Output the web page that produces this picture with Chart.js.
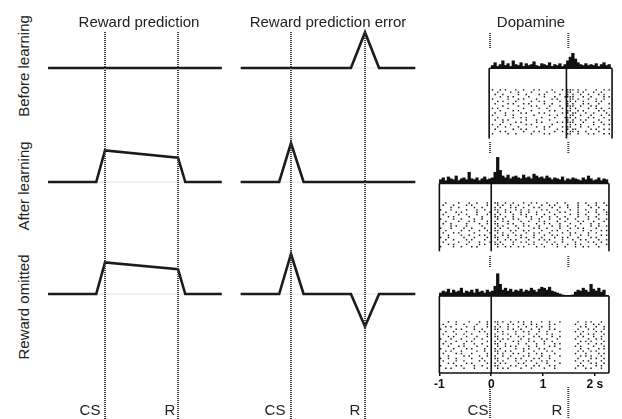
<!DOCTYPE html>
<html>
<head>
<meta charset="utf-8">
<title>Reward prediction error and dopamine</title>
<script src="https://cdn.jsdelivr.net/npm/chart.js@4.4.1/dist/chart.umd.min.js"></script>
<style>
    body { margin: 0; background: #fff; }
    #fig { position: relative; width: 622px; height: 419px; overflow: hidden; font-family: "Liberation Sans", Arial, sans-serif; color: #222; }
    #fig canvas { position: absolute; }
    .lbl { position: absolute; font-size: 15px; line-height: 15px; white-space: nowrap; transform: translate(-50%, -50%); }
    .rot { transform: translate(-50%, -50%) rotate(-90deg); }
</style>
</head>
<body>
<div id="fig"></div>
<script>
// ---- data ----
// model time: CS = 0, R = 1
const CS = 0;
const R = 1;

const rpTimes = [-0.78, -0.12, 0, 1, 1.1, 1.6];
const rpBefore = [0, 0, 0, 0, 0, 0];
const rpAfter = [0, 0, 0.79, 0.61, 0, 0];
const rpOmitted = [0, 0, 0.79, 0.62, 0, 0];

const rpeTimes = [-0.68, -0.16, 0, 0.17, 0.81, 1, 1.19, 1.68];
const rpeBefore = [0, 0, 0, 0, 0, 0.89, 0, 0];
const rpeAfter = [0, 0, 0.97, 0, 0, 0, 0, 0];
const rpeOmitted = [0, 0, 1, 0, 0, -0.81, 0, 0];

// dopamine neuron, seconds from CS, 50 ms bins
const daReward = 1.45;
const binWidth = 0.05;

const histBefore = [3, 6, 2, 4, 8, 3, 5, 2, 8, 4, 3, 6, 2, 5, 3, 4, 7, 3, 2, 5,
    4, 3, 6, 2, 4, 3, 5, 2, 4, 8, 12, 16, 10, 6, 4, 3, 5, 3, 4, 3, 5, 2, 4, 6, 3, 4]; // from 0 s
const histAfter = [4, 6, 3, 7, 5, 4, 8, 3, 5, 6, 4, 12, 5, 4, 6, 3, 5, 7, 4, 5,
    6, 12, 28, 14, 8, 6, 9, 5, 7, 8, 6, 5, 9, 6, 7, 5, 10, 8, 6, 7,
    5, 8, 6, 4, 6, 5, 4, 7, 3, 5, 4, 6, 5, 4, 3, 6, 4, 8, 5, 3, 4, 6, 3, 5, 4]; // from -1 s
const histOmitted = [3, 5, 4, 7, 3, 6, 4, 5, 8, 3, 5, 4, 6, 3, 7, 4, 5, 3, 6, 4,
    5, 10, 23, 12, 6, 8, 5, 7, 4, 6, 5, 7, 4, 6, 5, 8, 6, 4, 7, 9,
    8, 6, 9, 5, 4, 3, 2, 1, 0, 0, 0, 1, 4, 6, 5, 8, 6, 4, 12, 7, 5, 8, 4, 6]; // from -1 s

// one string per trial, one character per bin, x = spike
const rasterBefore = [ // from 0 s, reward at bin 29
    "x..x.x...x..x...x.x....x...x." + "xxx.x..x...x..x.x",
    "..x....x..x....x.....x..x...." + "xx..x.x...x..x...",
    ".x..x.....x..x....x.x.....x.." + "x.x..x..x...x.x..",
    "...x..x.x.....x.....x...x...x" + "xxx...x..x....x.x",
    "x.....x...x.x....x.....x.x..." + ".xx.x...x..x..x..",
    "..x.x....x.....x..x.x.....x.." + "xx.x..x....x.x...",
    ".x....x.x...x.x.....x..x....." + "x.x...x.x...x...x",
    "....x.....x....x.x....x...x.." + "xxx..x...x.x.....",
    "x.x...x.....x.....x..x.....x." + ".x.x....x..x.x..x",
    "...x....x.x....x......x.x...." + "xx..x.x.....x.x..",
    ".x...x.....x.x....x.x......x." + "x.xx...x..x....x.",
    "x....x..x.......x.....x..x..." + ".xx..x...x...x..x",
    "..x.....x..x.x.....x....x...x" + "xx.x....x.x...x..",
    ".x..x.x......x...x....x......" + "x.x..x.x....x...x",
    "....x....x.x.....x.x.....x.x." + "xxx...x...x..x...",
    "x..x...x.....x.x.......x....." + ".x.x.x....x...x.x",
    "..x..x....x......x..x.x....x." + "xx...x..x...x....",
    ".x......x..x.x......x....x..." + "x.xx.....x.x..x.x",
    "...x.x......x...x.x.....x..x." + ".xx.x..x....x....",
    "x.....x..x.....x....x.x......" + "xx..x...x.x...x.x",
];
const rasterAfter = [ // from -1 s, CS at bin 20
    "..x....x...x..x...x." + ".xx..x..x...x..x.x...x...x..x....x..x...x..x.",
    ".x...x....x.x.....x." + "..x.x..x..x...x....x..x.x....x...x...x..x...x",
    "....x..x.....x..x..." + ".x.x...x.x..x...x.x....x..x..x...x....x..x...",
    "x...x.....x...x..x.." + ".xx..x...x.x..x....x.x...x....x..x..x...x..x.",
    "..x...x.x.....x....x" + "..x..x.x...x..x..x....x...x.x....x...x..x...x",
    ".x.....x..x...x...x." + ".x.x....x..x.x...x..x...x.....x..x..x....x..x",
    "...x.x.....x....x..." + ".xx..x..x....x.x...x..x..x..x....x...x..x....",
    "x....x..x....x..x..." + "..x.x...x.x....x..x...x...x..x..x....x...x..x",
    "..x....x...x.x....x." + ".x..x.x....x..x...x.x....x..x....x.x...x...x.",
    ".x..x.....x....x..x." + ".xx...x.x...x....x..x.x...x...x...x...x..x...",
    "....x.x...x.....x..." + "..x.x....x..x.x...x....x..x..x..x.....x..x..x",
    "x...x....x..x....x.." + ".x.x..x...x.....x.x..x....x...x..x.x....x....",
    "..x.....x..x...x..x." + ".xx....x.x..x.x....x...x.x...x.....x..x...x.x",
    ".x...x.x.....x.....x" + "..x.x...x....x..x.x...x....x..x.x....x..x....",
    "...x....x..x...x.x.." + ".x..x.x..x.x....x...x..x.x....x...x..x....x.x",
    "x..x.....x...x....x." + ".xx...x....x.x..x..x....x..x.x...x....x.x....",
    "..x..x....x.x....x.." + "..x..x.x.x....x...x.x.x....x...x..x.x....x..x",
    ".x.....x...x...x...x" + ".x.x....x..x.x..x....x..x..x....x....x.x..x..",
    "...x.x....x....x.x.." + ".xx.x...x.....x.x..x...x.x...x..x.x.....x...x",
    "x....x..x...x.x....." + "..x..x.x..x.x....x..x....x..x...x..x.x...x...",
];
const rasterOmitted = [ // from -1 s, CS at bin 20, omitted reward at bins 47-51
    "...x..x....x...x..x." + ".xx.x..x..x.x..x...x..x...x" + "....." + ".x..x.x...x..",
    ".x....x..x....x...x." + "..x...x.x...x..x.x....x.x.." + "....." + "x...x..x.x...",
    "..x.x.....x..x....x." + ".x.x..x...x..x...x.x..x...." + "....." + "..x.x...x..x.",
    "x.....x.x....x..x..." + ".xx...x.x..x...x..x...x.x.." + "....." + ".x...x.x...x.",
    "..x..x....x....x.x.." + "..x.x....x..x.x...x..x....x" + "....." + "x..x....x.x..",
    ".x....x..x..x.....x." + ".x..x.x..x....x..x...x.x..." + "....." + "..x..x.x...x.",
    "...x.x....x...x...x." + ".xx....x..x.x...x.x....x..x" + "....." + ".x.x...x..x..",
    "x...x...x....x..x..." + "..x.x.x....x..x....x.x...x." + "....." + "x....x..x.x..",
    "..x...x...x.x.....x." + ".x.x....x.x...x.x...x..x..." + "....." + "..x.x.x....x.",
    ".x..x....x...x..x..." + ".xx..x....x..x...x..x...x.x" + "....." + ".x...x..x.x..",
    "...x...x.x....x...x." + "..x..x.x.x....x..x....x.x.." + "....." + "x.x....x...x.",
    "x....x....x.x....x.." + ".x.x.....x..x.x...x.x.....x" + "....." + "..x..x...x.x.",
    "..x.x...x.....x..x.." + ".xx..x.x....x...x....x.x..." + "....." + ".x.x..x.x....",
    ".x....x.x...x.....x." + "..x.x...x.x...x..x.x....x.." + "....." + "x...x....x.x.",
    "...x.....x.x...x..x." + ".x..x..x....x.x....x..x...x" + "....." + "..x.x.x...x..",
    "x..x..x.....x...x..." + ".xx...x..x.x....x.x...x...." + "....." + ".x....x.x..x.",
    ".x....x..x.....x.x.." + "..x.x....x...x.x...x.x..x.." + "....." + "x..x.x....x..",
    "...x.x....x.x.....x." + ".x.x.x....x.x....x...x....x" + "....." + "..x...x.x..x.",
    "x.....x.x....x..x..." + ".xx....x.x...x..x.x...x.x.." + "....." + ".x.x....x.x..",
    "..x.x....x...x....x." + "..x.x.x....x...x....x...x.." + "....." + "x...x.x...x..",
];

const timeTicks = [-1, 0, 1, 2];
const timeTickLabels = ["-1", "0", "1", "2 s"];

const columnTitles = ["Reward prediction", "Reward prediction error", "Dopamine"];
const rowLabels = ["Before learning", "After learning", "Reward omitted"];
const eventLabels = ["CS", "R"];

// ---- layout ----
const fig = document.getElementById("fig");
const rowBase = [68, 182, 294]; // zero line of each model row (px)
const unitPx = 40;
const lineStyle = { borderColor: "#1b1b1b", borderWidth: 2.6 };
const guideStyle = { borderColor: "#3a3a3a", borderWidth: 2, borderDash: [1, 1] };
const frameStyle = { borderColor: "#111", borderWidth: 1.6 };

const addText = (text, x, y, rotate) => {
    const d = document.createElement("div");
    d.className = rotate ? "lbl rot" : "lbl";
    d.textContent = text;
    d.style.left = x + "px";
    d.style.top = y + "px";
    fig.appendChild(d);
};

const addCanvas = (left, top, width, height) => {
    const c = document.createElement("canvas");
    c.width = width;
    c.height = height;
    c.style.left = left + "px";
    c.style.top = top + "px";
    fig.appendChild(c);
    return c;
};

// range for an axis so that v0 sits on pixel p0 and v1 on pixel p1
const fitRange = (v0, p0, v1, p1, size, vertical) => {
    const k = (v1 - v0) / (p1 - p0);
    const a = v0 - p0 * k;
    const b = v0 + (size - p0) * k;
    if (!vertical) return { min: a, max: b };
    return k < 0 ? { min: b, max: a } : { min: a, max: b, reverse: true };
};

const hidden = (range) => Object.assign({ type: "linear", display: false, offset: false, grid: { offset: false } }, range);

const baseOptions = (scales) => ({
    responsive: false,
    animation: false,
    devicePixelRatio: 1,
    events: [],
    layout: { padding: 0 },
    plugins: { legend: { display: false }, tooltip: { enabled: false } },
    scales: scales,
});

const seg = (x0, y0, x1, y1, axis, style, order) => Object.assign({
    type: "line",
    data: [{ x: x0, y: y0 }, { x: x1, y: y1 }],
    yAxisID: axis,
    pointRadius: 0,
    clip: false,
    order: order,
}, style);

// ---- model columns ----
const modelColumn = (left, width, csPx, rPx, times, rows) => {
    const canvas = addCanvas(left, 0, width, 419);
    const scales = {
        x: hidden(fitRange(CS, csPx - left, R, rPx - left, width)),
        yp: hidden(fitRange(0, 0, 419, 419, 419, true)),
    };
    const datasets = [];
    rows.forEach((vals, i) => {
        const id = "y" + i;
        scales[id] = hidden(fitRange(0, rowBase[i], 1, rowBase[i] - unitPx, 419, true));
        datasets.push(Object.assign({
            type: "line",
            data: times.map((t, j) => ({ x: t, y: vals[j] })),
            yAxisID: id,
            pointRadius: 0,
            tension: 0,
            clip: false,
            order: 1,
        }, lineStyle));
        datasets.push(seg(times[0], 0, times[times.length - 1], 0, id, { borderColor: "#ececec", borderWidth: 1.5 }, 2));
    });
    [CS, R].forEach((t) => datasets.push(seg(t, 32, t, 419, "yp", guideStyle, 0)));
    new Chart(canvas, { type: "line", data: { datasets: datasets }, options: baseOptions(scales) });
};

modelColumn(40, 190, 105, 178, rpTimes, [rpBefore, rpAfter, rpOmitted]);
modelColumn(232, 188, 291, 365, rpeTimes, [rpeBefore, rpeAfter, rpeOmitted]);

// ---- dopamine column ----
const daLeft = 420;
const daWidth = 202;
const daRange = fitRange(-1, 436 - daLeft, 0, 490 - daLeft, daWidth);
const axisHeight = 27;

const dopaminePanel = (p) => {
    const canvas = addCanvas(daLeft, p.top, daWidth, p.height);
    const areaH = p.height - (p.axis ? axisHeight : 0);
    const x = hidden(daRange);
    if (p.axis) {
        Object.assign(x, {
            display: true,
            border: { display: false },
            grid: { offset: false, drawOnChartArea: false, drawTicks: true, tickLength: 3, color: "#111", lineWidth: 1.5 },
            ticks: {
                autoSkip: false,
                maxRotation: 0,
                padding: 1,
                color: "#111",
                font: { family: "Liberation Sans", size: 12, weight: "bold" },
                callback: (v, i) => timeTickLabels[i],
            },
            afterBuildTicks: (s) => { s.ticks = timeTicks.map((v) => ({ value: v })); },
            afterFit: (s) => { s.height = axisHeight; },
        });
    }
    const scales = {
        x: x,
        yh: hidden(fitRange(0, p.base - p.top, 10, p.base - p.top - 10, areaH, true)),
        yr: hidden(fitRange(0, p.rowTop - p.top, p.raster.length - 1, p.rowBottom - p.top, areaH, true)),
        yp: hidden(fitRange(p.top, 0, p.top + areaH, areaH, areaH, true)),
    };
    const spikes = [];
    p.raster.forEach((row, r) => {
        row.split("").forEach((c, i) => {
            if (c === "x") spikes.push({ x: p.start + (i + 0.5) * binWidth, y: r });
        });
    });
    const datasets = [
        {
            type: "bar",
            data: p.hist.map((v, i) => ({ x: p.start + (i + 0.5) * binWidth, y: v })),
            yAxisID: "yh",
            backgroundColor: "#111",
            borderWidth: 0,
            barPercentage: 1,
            categoryPercentage: 1,
            grouped: false,
            order: 2,
        },
        {
            type: "scatter",
            data: spikes,
            yAxisID: "yr",
            pointStyle: "rect",
            pointRadius: 1,
            backgroundColor: "#111",
            borderWidth: 0,
            order: 1,
        },
        seg(p.left, p.base, p.right, p.base, "yp", frameStyle, 0),
        seg(p.left, p.base, p.left, p.bottom, "yp", frameStyle, 0),
        seg(p.right, p.base, p.right, p.bottom, "yp", frameStyle, 0),
        seg(p.divider, p.base, p.divider, p.bottom, "yp", frameStyle, 0),
    ];
    if (p.axis) datasets.push(seg(p.left, p.bottom, p.right, p.bottom, "yp", frameStyle, 0));
    new Chart(canvas, { type: "bar", data: { datasets: datasets }, options: baseOptions(scales) });
};

dopaminePanel({ top: 25, height: 125, base: 67, rowTop: 90, rowBottom: 137, bottom: 142,
    left: -0.04, right: 2.33, divider: daReward, start: 0, hist: histBefore, raster: rasterBefore });
dopaminePanel({ top: 145, height: 115, base: 182, rowTop: 203, rowBottom: 250, bottom: 255,
    left: -1, right: 2.27, divider: 0, start: -1, hist: histAfter, raster: rasterAfter });
dopaminePanel({ top: 262, height: 138, base: 293, rowTop: 320, rowBottom: 368, bottom: 373,
    left: -1, right: 2.27, divider: 0, start: -1, hist: histOmitted, raster: rasterOmitted, axis: true });

// CS / R markers between the dopamine panels
(() => {
    const canvas = addCanvas(daLeft, 0, daWidth, 419);
    const scales = { x: hidden(daRange), yp: hidden(fitRange(0, 0, 419, 419, 419, true)) };
    const datasets = [];
    [[33, 49], [142, 153], [256, 267], [387, 419]].forEach((span) => {
        [0, daReward].forEach((t) => datasets.push(seg(t, span[0], t, span[1], "yp", guideStyle, 0)));
    });
    new Chart(canvas, { type: "line", data: { datasets: datasets }, options: baseOptions(scales) });
})();

// ---- text ----
[139, 328, 531].forEach((x, i) => addText(columnTitles[i], x, 21));
[66, 186, 307].forEach((y, i) => addText(rowLabels[i], 23, y, true));
[[90, 170], [275, 355], [478, 557]].forEach((xs) => {
    addText(eventLabels[0], xs[0], 409);
    addText(eventLabels[1], xs[1], 409);
});
</script>
</body>
</html>
